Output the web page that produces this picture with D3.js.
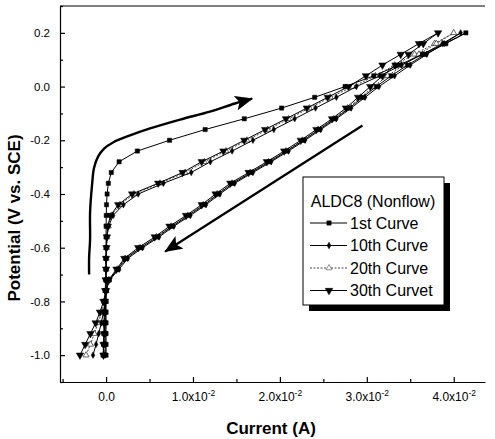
<!DOCTYPE html>
<head>
  <meta charset="utf-8">
  <title>ALDC8 (Nonflow)</title>
  <style>
    body { margin: 0; background: #fff; }
    text { font-family: Arial, "Liberation Sans", sans-serif; fill: #000; }
  </style>
</head>
<body>
<svg width="495" height="439"></svg>

<script src="https://d3js.org/d3.v7.min.js"></script>
<script>

  // potential (V vs. SCE) at each sample, shared by every sweep
  const potential = [-1.00, -0.96, -0.92, -0.88, -0.84, -0.80, -0.76, -0.72, -0.68, -0.64, -0.60,
                     -0.56, -0.52, -0.48, -0.44, -0.40, -0.36, -0.32, -0.28, -0.24, -0.20,
                     -0.16, -0.12, -0.08, -0.04, 0.00, 0.04, 0.08, 0.12, 0.16, 0.20];

  // current in mA, same order as potential. Fwd = sweep up, Rev = sweep back down
  const curve1Fwd  = [0, 0, 0, 0, 0, 0, 0, 0, 0, 0, 0, 0, 0, 0.02, 0.05, 0.12, 0.26, 0.6, 1.5, 3.6, 7.3,
                      11.4, 15.9, 20.2, 24.0, 27.5, 30.8, 33.7, 36.4, 39.0, 41.4];
  const curve1Rev  = [-0.35, -0.27, -0.2, -0.15, -0.1, -0.05, 0, 0.35, 1.35, 2.3, 4.0, 5.9, 7.6, 9.5, 11.3,
                      12.9, 14.6, 16.7, 18.8, 20.8, 22.7, 24.5, 26.3, 28.0, 29.5, 31.1, 32.8, 34.7, 36.7, 39.1, 41.4];
  const curve10Fwd = [-0.1, -0.1, -0.1, -0.1, -0.1, -0.05, 0, 0, 0, 0, 0.02, 0.1, 0.3, 0.8, 2.0, 3.7, 6.6,
                      9.8, 12.0, 14.5, 16.9, 19.3, 21.7, 24.1, 26.5, 28.8, 31.5, 34.0, 36.4, 38.7, 40.8];
  const curve10Rev = [-1.5, -1.15, -0.85, -0.55, -0.3, -0.1, 0, 0.4, 1.5, 2.5, 4.2, 6.1, 7.8, 9.7, 11.5,
                      13.1, 14.8, 16.9, 19.0, 21.0, 22.9, 24.7, 26.5, 28.2, 29.8, 31.4, 33.2, 35.0, 36.9, 38.9, 40.8];
  const curve20Fwd = [-0.2, -0.2, -0.2, -0.2, -0.15, -0.1, -0.05, 0, 0, 0, 0.05, 0.1, 0.25, 0.6, 1.6, 3.2,
                      6.2, 9.1, 11.3, 13.8, 16.2, 18.6, 21.0, 23.4, 25.8, 28.4, 31.0, 33.2, 35.5, 37.8, 40.0];
  const curve20Rev = [-2.3, -1.8, -1.35, -0.9, -0.5, -0.2, 0, 0.3, 1.3, 2.2, 3.9, 5.8, 7.5, 9.4, 11.2,
                      12.8, 14.5, 16.6, 18.7, 20.7, 22.6, 24.4, 26.2, 27.8, 29.3, 30.8, 32.4, 34.2, 36.0, 38.0, 40.0];
  const curve30Fwd = [-0.3, -0.3, -0.25, -0.25, -0.2, -0.15, -0.1, -0.05, 0, 0, 0.05, 0.1, 0.2, 0.5, 1.4,
                      3.0, 6.0, 8.8, 11.0, 13.5, 15.9, 18.3, 20.7, 23.1, 25.5, 27.9, 29.9, 31.8, 33.9, 36.0, 38.2];
  const curve30Rev = [-3.0, -2.4, -1.8, -1.2, -0.7, -0.3, 0, 0.3, 1.2, 2.1, 3.7, 5.6, 7.3, 9.2, 11.0,
                      12.6, 14.3, 16.4, 18.5, 20.5, 22.4, 24.2, 26.0, 27.6, 29.0, 30.4, 31.8, 33.3, 34.8, 36.5, 38.2];

  const seriesNames = ["1st Curve", "10th Curve", "20th Curve", "30th Curvet"];
  const legendTitle = "ALDC8 (Nonflow)";

  const xTicks = [0, 0.01, 0.02, 0.03, 0.04];
  const xMinor = [-0.005, 0.005, 0.015, 0.025, 0.035];
  const yTicks = [-1.0, -0.8, -0.6, -0.4, -0.2, 0.0, 0.2];
  const yMinor = [-1.1, -0.9, -0.7, -0.5, -0.3, -0.1, 0.1, 0.3];

  // sweep direction arrows (current mA, potential V)
  const arrowUpI = [-1.95, -1.95, -1.84, -1.84, -1.61, -1.38, -0.92, -0.23, 0.80, 2.76, 5.06, 8.51, 11.95, 14.83, 16.8];
  const arrowUpV = [-0.700, -0.637, -0.570, -0.469, -0.365, -0.302, -0.261, -0.231, -0.208, -0.182, -0.156, -0.123, -0.093, -0.063, -0.045];
  const arrowDownI = [29.5, 6.8];
  const arrowDownV = [-0.145, -0.614];

  let svg = d3.select("svg");

  const x = d3.scaleLinear().domain([-0.0053, 0.0436]).range([60, 485]);
  const y = d3.scaleLinear().domain([-1.1, 0.3]).range([382, 6]);

  // axes, ticks pointing inward
  const xAxis = svg.append("g")
    .attr("transform", `translate(0,${y.range()[0]})`)
    .call(d3.axisBottom(x).tickValues(xTicks).tickSizeInner(-5).tickSizeOuter(0).tickPadding(10))
  svg.append("g")
    .attr("transform", `translate(0,${y.range()[0]})`)
    .call(d3.axisBottom(x).tickValues(xMinor).tickSize(-3).tickFormat(""))
    .select(".domain").remove()

  const yAxis = svg.append("g")
    .attr("transform", `translate(${x.range()[0]},0)`)
    .call(d3.axisLeft(y).tickValues(yTicks).tickSizeInner(-5).tickSizeOuter(0).tickPadding(10)
      .tickFormat(d3.format(".1f")))
  svg.append("g")
    .attr("transform", `translate(${x.range()[0]},0)`)
    .call(d3.axisLeft(y).tickValues(yMinor).tickSize(-3).tickFormat(""))
    .select(".domain").remove()

  svg.selectAll(".domain, .tick line").attr("stroke", "#000").attr("stroke-width", 1.2)

  // top frame line
  svg.append("line")
    .attr("x1", x.range()[0]).attr("x2", x.range()[1])
    .attr("y1", y.range()[1]).attr("y2", y.range()[1])
    .attr("stroke", "#000").attr("stroke-width", 1.2)

  yAxis.selectAll(".tick text")
    .attr("font-family", "Arial, 'Liberation Sans', sans-serif")
    .attr("font-size", 11.5)
    .text(d => d3.format(".1f")(d).replace("−", "-"))

  xAxis.selectAll(".tick text")
    .attr("font-family", "Arial, 'Liberation Sans', sans-serif")
    .attr("font-size", 12)
    .each(function(d){
      const t = d3.select(this).text(null)
      if (d === 0) { t.text("0.0"); return; }
      t.append("tspan").text((d * 100).toFixed(1) + "x10")
      t.append("tspan").attr("dy", "-0.5em").attr("font-size", 8.5).text("-2")
    })

  // axis titles
  svg.append("text")
    .attr("x", 271).attr("y", 434)
    .attr("text-anchor", "middle")
    .attr("font-size", 17).attr("font-weight", "bold")
    .text("Current (A)")
  svg.append("text")
    .attr("transform", "translate(20,218) rotate(-90)")
    .attr("text-anchor", "middle")
    .attr("font-size", 17).attr("font-weight", "bold")
    .text("Potential (V vs. SCE)")

  // curves
  const styles = [
    {fwd: curve1Fwd,  rev: curve1Rev,  symbol: d3.symbolSquare,   size: 18, rot: 0,   fill: "#000", stroke: "#000", dash: null},
    {fwd: curve10Fwd, rev: curve10Rev, symbol: d3.symbolDiamond,  size: 12, rot: 0,   fill: "#000", stroke: "#000", dash: null},
    {fwd: curve20Fwd, rev: curve20Rev, symbol: d3.symbolTriangle, size: 16, rot: 0,   fill: "#fff", stroke: "#444", dash: "2,1.5"},
    {fwd: curve30Fwd, rev: curve30Rev, symbol: d3.symbolTriangle, size: 24, rot: 180, fill: "#000", stroke: "#000", dash: null}
  ];

  const line = d3.line()
    .x(d => x(d[0] / 1000))
    .y(d => y(d[1]))

  const order = [2, 1, 3, 0];
  order.forEach(k => {
    const s = styles[k];
    const up = potential.map((v, i) => [s.fwd[i], v]);
    const down = potential.map((v, i) => [s.rev[i], v]).reverse();
    const pts = up.concat(down.slice(1));

    svg.append("path")
      .datum(pts)
      .attr("fill", "none")
      .attr("stroke", s.stroke)
      .attr("stroke-width", 1)
      .attr("stroke-dasharray", s.dash)
      .attr("d", line)

    svg.append("g")
      .selectAll("path")
      .data(pts)
      .enter().append("path")
      .attr("transform", d => `translate(${x(d[0] / 1000)},${y(d[1])}) rotate(${s.rot})`)
      .attr("d", d3.symbol().type(s.symbol).size(s.size))
      .attr("fill", s.fill)
      .attr("stroke", s.stroke)
      .attr("stroke-width", k === 2 ? 0.8 : 0.5)
  })

  // arrow heads
  svg.append("defs").append("marker")
    .attr("id", "head")
    .attr("markerUnits", "userSpaceOnUse")
    .attr("viewBox", "0 0 18 15")
    .attr("markerWidth", 18).attr("markerHeight", 15)
    .attr("refX", 17).attr("refY", 7.5)
    .attr("orient", "auto")
    .append("path")
    .attr("d", "M0,0 L18,7.5 L0,15 L4,7.5 Z")
    .attr("fill", "#000")

  const arrowLine = d3.line()
    .x(d => x(d[0] / 1000))
    .y(d => y(d[1]))
    .curve(d3.curveCatmullRom)

  svg.append("path")
    .datum(arrowUpI.map((c, i) => [c, arrowUpV[i]]))
    .attr("fill", "none").attr("stroke", "#000").attr("stroke-width", 2.4)
    .attr("marker-end", "url(#head)")
    .attr("d", arrowLine)

  svg.append("path")
    .datum(arrowDownI.map((c, i) => [c, arrowDownV[i]]))
    .attr("fill", "none").attr("stroke", "#000").attr("stroke-width", 2.2)
    .attr("marker-end", "url(#head)")
    .attr("d", arrowLine)

  // legend
  const legend = svg.append("g").attr("transform", "translate(303,177)")
  legend.append("rect")
    .attr("x", 6).attr("y", 6).attr("width", 141).attr("height", 128)
    .attr("fill", "#000")
  legend.append("rect")
    .attr("width", 141).attr("height", 128)
    .attr("fill", "#fff").attr("stroke", "#000").attr("stroke-width", 1)
  legend.append("text")
    .attr("x", 70).attr("y", 30)
    .attr("text-anchor", "middle")
    .attr("font-size", 16)
    .text(legendTitle)

  seriesNames.forEach((name, i) => {
    const s = styles[i];
    const g = legend.append("g").attr("transform", `translate(0,${46 + i * 22.5})`)
    g.append("line")
      .attr("x1", 7).attr("x2", 44)
      .attr("stroke", s.stroke).attr("stroke-width", 1)
      .attr("stroke-dasharray", s.dash)
    g.append("path")
      .attr("transform", `translate(26,0) rotate(${s.rot})`)
      .attr("d", d3.symbol().type(s.symbol).size(s.size))
      .attr("fill", s.fill).attr("stroke", s.stroke).attr("stroke-width", 0.6)
    g.append("text")
      .attr("x", 47).attr("y", 5.5)
      .attr("font-size", 16)
      .text(name)
  })

</script>
</body>
